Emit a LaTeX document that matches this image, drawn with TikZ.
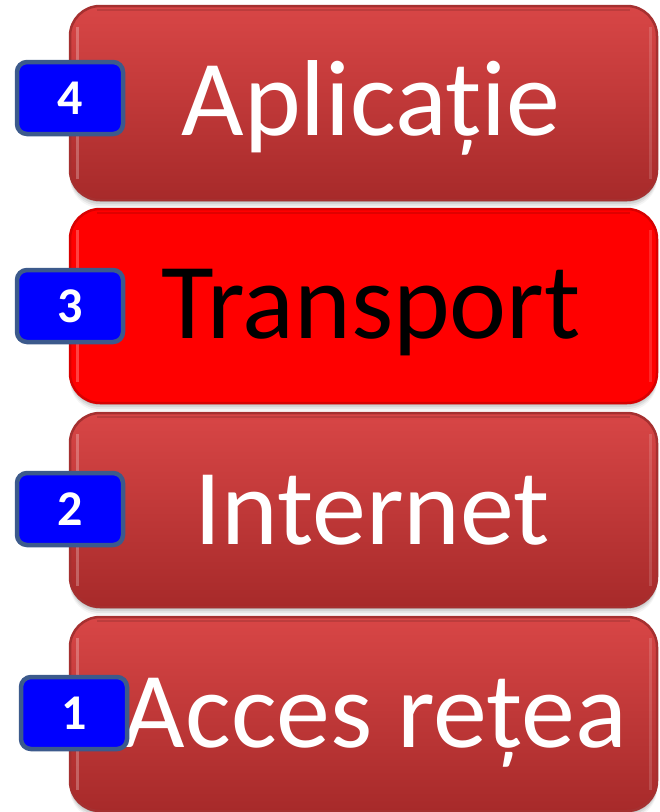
\documentclass[tikz,border=0pt]{standalone}
\usepackage{fontspec}
\setmainfont{Carlito}
\begin{document}
\begin{tikzpicture}[x=1pt,y=-1pt,
  layer/.style={rounded corners=30pt, minimum width=587pt, minimum height=194pt, inner sep=0pt,
    draw=edgered, line width=2.5pt, top color=redtop, bottom color=redbot},
  hotlayer/.style={layer, draw=hotedge, top color=red, bottom color=red},
  badge/.style={rounded corners=10pt, minimum width=106pt, minimum height=72pt, inner sep=0pt,
    draw=badgeedge, line width=4.5pt, fill=badgeblue, text=white,
    font=\fontsize{50}{54}\selectfont\bfseries},
  label/.style={anchor=base, inner sep=0pt, font=\fontsize{108}{120}\selectfont},
]
\definecolor{redtop}{HTML}{D84646}
\definecolor{redbot}{HTML}{A72A2A}
\definecolor{edgered}{HTML}{A53030}
\definecolor{hotedge}{HTML}{D80000}
\definecolor{badgeedge}{HTML}{3C5A8C}
\definecolor{badgeblue}{HTML}{0000FF}
\useasboundingbox (0,0) rectangle (660,812);
\fill[white] (0,0) rectangle (660,812);
% shadows
\foreach \yc in {103,306,510,714}{
  \foreach \o/\op in {2/0.10,4/0.08,6/0.06,8/0.04}{
    \fill[black, opacity=\op, rounded corners=30pt] (70,\yc-95+\o) rectangle (657,\yc+97+\o);
  }
}
% layers
\node[layer] (b4) at (363.5,103) {};
\node[hotlayer] (b3) at (363.5,306) {};
\node[layer] (b2) at (363.5,510) {};
\node[layer] (b1) at (363.5,714) {};
% bevel highlights
\foreach \b in {b4,b3,b2,b1}{
  \draw[white, opacity=0.25, line width=3pt]
    ([xshift=9pt,yshift=-22pt]\b.north west) -- ([xshift=9pt,yshift=22pt]\b.south west);
  \draw[white, opacity=0.15, line width=3pt]
    ([xshift=-8pt,yshift=-22pt]\b.north east) -- ([xshift=-8pt,yshift=22pt]\b.south east);
  \draw[black, opacity=0.12, line width=2pt]
    ([xshift=28pt,yshift=-5pt]\b.north west) -- ([xshift=-28pt,yshift=-5pt]\b.north east);
}
% texts
\node[label, text=white] (t4) at (371,135) {Aplicație};
\node[label, text=black] (t3) at (371,338) {Transport};
\node[label, text=white] (t2) at (372,544) {Internet};
\node[label, text=white] (t1) at (375,747) {Acces rețea};
% badges
\node[badge] (n4) at (70,98) {4};
\node[badge] (n3) at (70,306) {3};
\node[badge] (n2) at (70,509) {2};
\node[badge] (n1) at (74,713) {1};
\end{tikzpicture}
\end{document}
